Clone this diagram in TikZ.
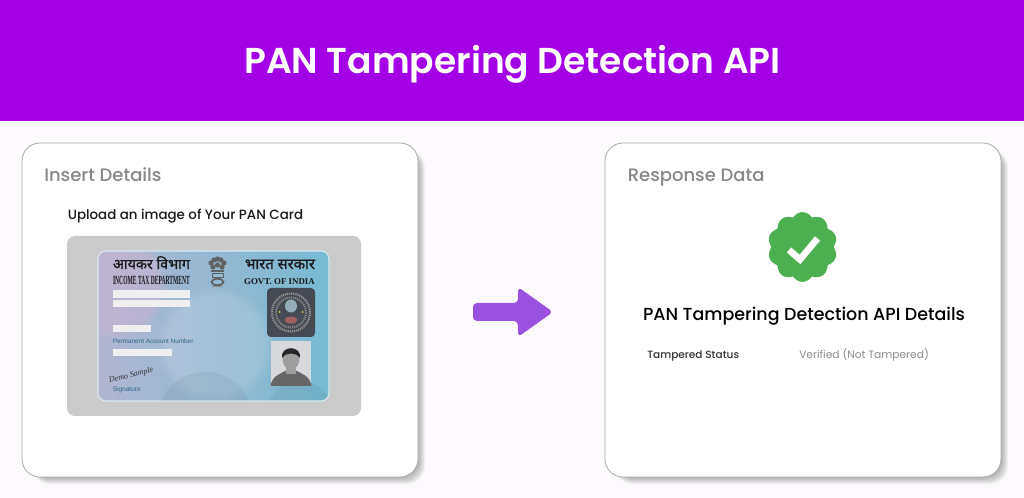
\documentclass[tikz,border=0pt]{standalone}
\usepackage{fontspec}
\usepackage{graphicx}
\setmainfont{Poppins}
\newfontfamily\semifont{Poppins SemiBold}
\newfontfamily\medfont{Poppins Medium}
\newfontfamily\hindifont[Script=Devanagari,FakeBold=1.2]{Noto Sans}
\newfontfamily\cardfont{Liberation Serif}
\newfontfamily\smallfont{Liberation Sans}
\usepackage{tikz}
\usetikzlibrary{arrows.meta, positioning, fadings}
\definecolor{bannerpurple}{RGB}{163,0,230}
\definecolor{pagetint}{RGB}{252,250,252}
\definecolor{arrowpurple}{RGB}{155,82,224}
\definecolor{headgray}{RGB}{136,136,136}
\definecolor{sealgreen}{RGB}{76,175,80}
\definecolor{framegray}{RGB}{170,170,170}
\definecolor{maskgray}{RGB}{203,203,204}
\definecolor{cardblue}{RGB}{47,102,135}
\definecolor{cardleft}{RGB}{178,182,208}
\definecolor{cardmid}{RGB}{158,192,210}
\definecolor{cardright}{RGB}{118,186,212}
\definecolor{cardlilac}{RGB}{196,180,208}
\definecolor{holodark}{RGB}{70,74,84}
\definecolor{photogray}{RGB}{216,217,221}
\tikzset{
    panelbox/.style={draw=framegray, line width=.6pt, fill=white, rounded corners=13.5pt, minimum width=297pt, minimum height=250.5pt, inner sep=0pt},
    headtext/.style={anchor=base west, text=headgray, font=\medfont\fontsize{13.5}{16}\selectfont, inner sep=0pt},
    whitebar/.style={fill=white!70!maskgray, draw=none},
    cardtext/.style={inner sep=0pt, anchor=base, text=black!90}
}
\begin{document}
\begin{tikzpicture}[x=.75pt, y=-.75pt]
        \useasboundingbox (0, 0) rectangle (1024, 498);
        \fill[pagetint] (0, 0) rectangle (1024, 498);
        \fill[bannerpurple] (0, 0) rectangle (1024, 121);
        \node[anchor=base, text=white, font=\semifont\fontsize{27}{32}\selectfont, inner sep=0pt] at (512.5, 73.5) (title) {PAN Tampering Detection API};

        % soft shadows under the two panels
        \foreach \px in {22, 605} {
            \foreach \grow in {0, 1, ..., 7} {
                \fill[black, opacity=.045, rounded corners=13.5pt] (\px+10, 150) rectangle (\px+396+\grow, 477+\grow);
            }
        }
        \node[panelbox] at (220, 310) (insert) {};
        \node[panelbox] at (803, 310) (response) {};

        \node[headtext] at (44, 181.5) (inserthead) {Insert Details};
        \node[headtext] at (627.5, 181.5) (responsehead) {Response Data};
        \node[anchor=base west, inner sep=0pt, text=black!90, font=\medfont\fontsize{10.05}{12}\selectfont] at (67.5, 220) (upload) {Upload an image of Your PAN Card};

        % the card
        \fill[maskgray, rounded corners=6pt] (67, 236) rectangle (361, 416);
        \begin{scope}
            \clip[rounded corners=6pt] (98, 251) rectangle (329, 401);
            \shade[left color=cardleft, middle color=cardmid, right color=cardright] (98, 251) rectangle (329, 401);
            \fill[cardlilac, opacity=.7, path fading=circle with fuzzy edge 20 percent] (112, 285) circle (55);
            \fill[white, opacity=.15, path fading=circle with fuzzy edge 20 percent] (215, 345) circle (60);
            \fill[black, opacity=.05] (205, 420) circle (48);
            \fill[black, opacity=.05] (300, 415) circle (34);
        \end{scope}
        \draw[white!70!cardright, line width=.8pt, rounded corners=6pt] (98, 251) rectangle (329, 401);
        \node[cardtext, font=\hindifont] at (151.5, 269) (hinditax) {\resizebox{57.7pt}{!}{आयकर विभाग}};
        \node[cardtext, font=\cardfont\bfseries] at (151.5, 284.5) (taxdept) {\resizebox{57.7pt}{6.2pt}{INCOME TAX DEPARTMENT}};
        \node[cardtext, font=\hindifont] at (280, 269) (hindigovt) {\resizebox{52.5pt}{!}{भारत सरकार}};
        \node[cardtext, font=\cardfont\bfseries] at (279.5, 284.5) (govt) {\resizebox{53pt}{!}{GOVT. OF INDIA}};

        \fill[whitebar] (113, 290) rectangle (190, 298);
        \fill[whitebar] (113, 300) rectangle (190, 307);
        \fill[whitebar] (113, 325) rectangle (151, 332);
        \fill[whitebar] (113, 349) rectangle (172, 356);
        \node[anchor=west, inner sep=0pt, text=cardblue, font=\smallfont] at (112.5, 341) (pannumber) {\resizebox{60.5pt}{!}{Permanent Account Number}};
        \node[anchor=west, inner sep=0pt, text=cardblue, font=\smallfont] at (112.5, 390) (signlabel) {\resizebox{21pt}{!}{Signature}};
        \node[anchor=west, inner sep=0pt, rotate=14, text=black!80, font=\cardfont\itshape] at (109, 381) (signname) {\resizebox{34pt}{!}{Demo Sample}};

        % emblem
        \foreach \ex/\ey in {211/263, 214/260, 217.5/259, 221/260, 224/263, 213/267, 217.5/265, 222/267} {
            \fill[black!62] (\ex, \ey) circle (2.6);
        }
        \fill[black!62] (211, 270) rectangle (224, 272);
        \draw[black!62, line width=.7pt] (212, 273) rectangle (223, 277);
        \draw[black!62, line width=1.3pt] (217.5, 282) ellipse (6 and 3.2);
        \fill[black!45] (212, 286.5) rectangle (223, 287.5);

        % hologram
        \fill[holodark, rounded corners=3pt] (267, 288) rectangle (315, 337);
        \draw[black!42, line width=1.6pt, dash pattern=on .9pt off .7pt] (291, 312.5) circle (19);
        \draw[black!48, line width=1.6pt, dash pattern=on .9pt off .7pt] (291, 312.5) circle (15);
        \fill[cardmid!70!gray] (291, 306) ellipse (6 and 6.5);
        \fill[red!25!gray] (291, 320) ellipse (6.5 and 3.5);
        \fill[yellow!70!gray] (279.5, 312) circle (1) (302.5, 312) circle (1);

        % photo
        \fill[photogray] (271, 341) rectangle (311, 386);
        \fill[black!60] (270.5, 386) .. controls (272, 376) and (280, 374) .. (285, 371) -- (297, 371) .. controls (302, 374) and (310, 376) .. (311.5, 386) -- cycle;
        \fill[black!38] (286, 364) rectangle (296, 374);
        \fill[black!38] (291, 359) ellipse (8.5 and 10.5);
        \fill[black!85] (282, 358) .. controls (280, 345) and (302, 345) .. (300, 358) .. controls (296, 352) and (286, 352) .. (282, 358) -- cycle;

        % seal on the right
        \fill[sealgreen] plot[samples=361, domain=0:360] ({802.5 + (31 + 3.8*abs(sin(5*\x)))*cos(\x)}, {247 + (31 + 3.8*abs(sin(5*\x)))*sin(\x)}) -- cycle;
        \draw[white, line width=5pt] (789, 250) -- (800, 259.5) -- (817.5, 238.5);

        \node[anchor=base, inner sep=0pt, text=black, font=\medfont\fontsize{13.1}{16}\selectfont] at (804, 321) (details) {PAN Tampering Detection API Details};
        \node[anchor=base west, inner sep=0pt, text=black!80, font=\medfont\fontsize{7.9}{10}\selectfont] at (647, 358.5) (status) {Tampered Status};
        \node[anchor=base west, inner sep=0pt, text=black!45, font=\fontsize{8}{10}\selectfont] at (799, 358.5) (verified) {Verified (Not Tampered)};

        % big arrow between panels
        \fill[arrowpurple, rounded corners=3pt] (473, 303) -- (518, 303) -- (518, 287) -- (553, 312) -- (518, 337) -- (518, 321) -- (473, 321) -- cycle;
    \end{tikzpicture}
\end{document}
